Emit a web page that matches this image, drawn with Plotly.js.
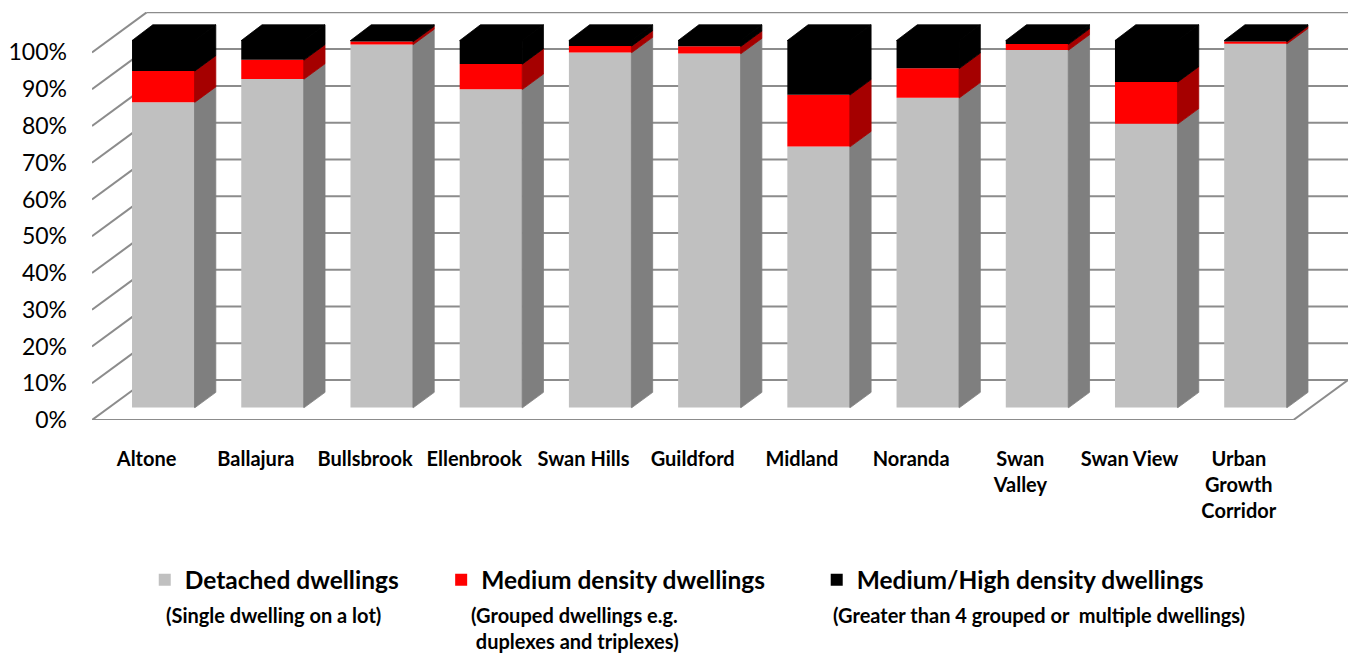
<!DOCTYPE html>
<html>
<head>
<meta charset="utf-8">
<script src="https://cdn.plot.ly/plotly-3.0.1.min.js"></script>
<style>
  html, body { margin: 0; padding: 0; background: #ffffff; }
  #chart { width: 1348px; height: 653px; }
</style>
</head>
<body>
<div id="chart"></div>
<script>
// Dwelling structure by locality (% of dwellings)
const localities = ['Altone', 'Ballajura', 'Bullsbrook', 'Ellenbrook', 'Swan Hills', 'Guildford',
                    'Midland', 'Noranda', 'Swan Valley', 'Swan View', 'Urban Growth Corridor'];
const localityLabels = ['Altone', 'Ballajura', 'Bullsbrook', 'Ellenbrook', 'Swan Hills', 'Guildford',
                        'Midland', 'Noranda', 'Swan<br>Valley', 'Swan View', 'Urban<br>Growth<br>Corridor'];
const detached     = [83.1, 89.4, 98.8, 86.6, 96.6, 96.3, 71.0, 84.3, 97.3, 77.2, 99.0];
const mediumDens   = [ 8.5,  5.2,  0.8,  6.9,  1.8,  2.0, 14.1,  8.0,  1.6, 11.4,  0.6];
const mediumHigh   = [ 8.4,  5.4,  0.4,  6.5,  1.6,  1.7, 14.9,  7.7,  1.1, 11.4,  0.4];
const yTicks = [0, 10, 20, 30, 40, 50, 60, 70, 80, 90, 100];

const seriesNames = ['Detached dwellings', 'Medium density dwellings', 'Medium/High density dwellings'];
const seriesNotes = ['(Single dwelling on a lot)',
                     '(Grouped dwellings e.g.<br> duplexes and triplexes)',
                     '(Greater than 4 grouped or  multiple dwellings)'];

// ---- pseudo-3D geometry (axis units) ----
const DEPTH_X = 0.5;     // horizontal shift of the full floor depth
const DEPTH_Y = 10.9;    // vertical shift of the full floor depth
const BAR_W = 0.577;     // bar width
const BAR_D0 = 0.31;     // bar front, as a fraction of floor depth
const BAR_D1 = 0.69;     // bar back
const SEAM = 0.005;      // small overlap so side faces close against the front faces
const FONT = 'Lato, "Open Sans", sans-serif';

const faceCol = ['#c0c0c0', '#ff0000', '#000000'];
const sideCol = ['#7f7f7f', '#a50000', '#000000'];

const series = [detached, mediumDens, mediumHigh];
const n = localities.length;
const xs = localities.map((_, i) => i);

// stacked bases
const bases = series.map((s, k) => s.map((_, i) => {
  let b = 0;
  for (let j = 0; j < k; j++) b += series[j][i];
  return b;
}));

const fx = BAR_D0 * DEPTH_X, fy = BAR_D0 * DEPTH_Y;
const sx = (BAR_D1 - BAR_D0) * DEPTH_X, sy = (BAR_D1 - BAR_D0) * DEPTH_Y;

const traces = [];
const legendIds = ['legend', 'legend2', 'legend3'];

// front faces
series.forEach((s, k) => {
  traces.push({
    type: 'bar', name: seriesNames[k], legend: legendIds[k],
    x: xs.map(i => i + fx), y: s, base: bases[k].map(b => b + fy),
    width: BAR_W, marker: {color: faceCol[k], line: {width: 0}},
    hoverinfo: 'skip'
  });
});

// right-hand side faces
series.forEach((s, k) => {
  const px = [], py = [];
  s.forEach((v, i) => {
    const xr = i + fx + BAR_W / 2;
    const y0 = bases[k][i] + fy, y1 = y0 + v;
    px.push(xr - SEAM, xr - SEAM, xr, xr + sx, xr + sx, xr, xr - SEAM, null);
    py.push(y0, y1, y1, y1 + sy, y0 + sy, y0, y0, null);
  });
  traces.push({
    type: 'scatter', mode: 'lines', x: px, y: py, fill: 'toself',
    fillcolor: sideCol[k], line: {width: 0.8, color: sideCol[k]},
    showlegend: false, hoverinfo: 'skip'
  });
});

// top faces of the stacks
{
  const px = [], py = [];
  xs.forEach(i => {
    const top = bases[2][i] + mediumHigh[i] + fy;
    const xl = i + fx - BAR_W / 2, xr = i + fx + BAR_W / 2;
    px.push(xl, xr, xr + sx, xl + sx, xl, null);
    py.push(top - 0.15, top - 0.15, top + sy, top + sy, top - 0.15, null);
  });
  traces.push({
    type: 'scatter', mode: 'lines', x: px, y: py, fill: 'toself',
    fillcolor: faceCol[2], line: {width: 0.8, color: faceCol[2]},
    showlegend: false, hoverinfo: 'skip'
  });
}

// walls and floor as gridlines behind the bars
const xMin = -0.5, xMax = n - 0.5;
const gridStyle = {color: '#8c8c8c', width: 2};
const shapes = [];
yTicks.forEach(v => {
  shapes.push({type: 'line', layer: 'below', xref: 'x', yref: 'y',
    x0: xMin, y0: v, x1: xMin + DEPTH_X, y1: v + DEPTH_Y, line: gridStyle});
  shapes.push({type: 'line', layer: 'below', xref: 'x', yref: 'y',
    x0: xMin + DEPTH_X, y0: v + DEPTH_Y, x1: xMax + DEPTH_X, y1: v + DEPTH_Y, line: gridStyle});
});
shapes.push({type: 'line', layer: 'below', xref: 'x', yref: 'y',
  x0: xMin, y0: 0, x1: xMax, y1: 0, line: gridStyle});
shapes.push({type: 'line', layer: 'below', xref: 'x', yref: 'y',
  x0: xMax, y0: 0, x1: xMax + DEPTH_X, y1: DEPTH_Y, line: gridStyle});

// legend blocks and their notes
const legendFont = {family: FONT, size: 24.5, color: '#000000', weight: 'bold'};
const legendX = [0.042, 0.278, 0.577];
const legendY = -0.392;
const noteX = [0.057, 0.300, 0.588];

const mkLegend = x => ({
  orientation: 'h', x: x, y: legendY, xanchor: 'left', yanchor: 'middle',
  font: legendFont, bgcolor: 'rgba(0,0,0,0)', borderwidth: 0, traceorder: 'normal'
});

const annotations = seriesNotes.map((t, k) => ({
  xref: 'paper', yref: 'paper', x: noteX[k], y: -0.444,
  xanchor: 'left', yanchor: 'top', align: 'left', showarrow: false,
  text: t, font: {family: FONT, size: 20, color: '#000000', weight: 'bold'}
}));

const layout = {
  width: 1348, height: 653,
  margin: {l: 92, r: 0, t: 12, b: 233},
  paper_bgcolor: '#ffffff', plot_bgcolor: 'rgba(0,0,0,0)',
  barmode: 'overlay',
  showlegend: true,
  legend: mkLegend(legendX[0]),
  legend2: mkLegend(legendX[1]),
  legend3: mkLegend(legendX[2]),
  xaxis: {
    range: [xMin, xMax + DEPTH_X], tickmode: 'array', tickvals: xs, ticktext: localityLabels,
    showgrid: false, zeroline: false, showline: false, ticks: '',
    ticklabelstandoff: 25,
    tickfont: {family: FONT, size: 20, color: '#000000', weight: 'bold'},
    fixedrange: true
  },
  yaxis: {
    range: [0, 100 + DEPTH_Y + 0.1], tickmode: 'array', tickvals: yTicks,
    ticktext: yTicks.map(v => v + '%'),
    showgrid: false, zeroline: false, showline: false, ticks: '',
    ticklabelstandoff: 24,
    tickfont: {family: FONT, size: 23, color: '#000000'},
    fixedrange: true
  },
  shapes: shapes,
  annotations: annotations,
  hovermode: false
};

Plotly.newPlot('chart', traces, layout, {displayModeBar: false, staticPlot: true});
</script>
</body>
</html>
